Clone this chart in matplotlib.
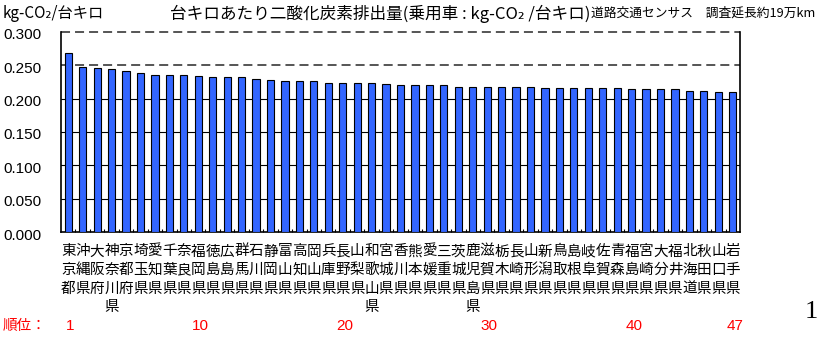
import matplotlib
matplotlib.use("Agg")
import matplotlib.pyplot as plt
import numpy as np
from matplotlib.transforms import blended_transform_factory, offset_copy

plt.rcParams["lines.scale_dashes"] = False

# Prefectures ordered by passenger-car CO2 emission per vehicle-km
prefectures = [
    "東京都", "沖縄県", "大阪府", "神奈川県", "京都府", "埼玉県", "愛知県", "千葉県",
    "奈良県", "福岡県", "徳島県", "広島県", "群馬県", "石川県", "静岡県", "富山県",
    "高知県", "岡山県", "兵庫県", "長野県", "山梨県", "和歌山県", "宮城県", "香川県",
    "熊本県", "愛媛県", "三重県", "茨城県", "鹿児島県", "滋賀県", "栃木県", "長崎県",
    "山形県", "新潟県", "鳥取県", "島根県", "岐阜県", "佐賀県", "青森県", "福島県",
    "宮崎県", "大分県", "福井県", "北海道", "秋田県", "山口県", "岩手県",
]
emissions = [
    0.269, 0.248, 0.246, 0.245, 0.242, 0.239, 0.236, 0.236,
    0.236, 0.234, 0.232, 0.232, 0.232, 0.230, 0.228, 0.226,
    0.226, 0.226, 0.224, 0.224, 0.224, 0.224, 0.222, 0.221,
    0.221, 0.221, 0.221, 0.218, 0.218, 0.218, 0.218, 0.218,
    0.218, 0.216, 0.216, 0.216, 0.216, 0.216, 0.216, 0.214,
    0.214, 0.214, 0.214, 0.212, 0.212, 0.210, 0.210,
]
rank_marks = [1, 10, 20, 30, 40, 47]
y_ticks = [0.0, 0.05, 0.10, 0.15, 0.20, 0.25, 0.30]
y_tick_labels = ["0.000", "0.050", "0.100", "0.150", "0.200", "0.250", "0.300"]
solid_grid = [0.05, 0.10, 0.15, 0.20]
dashed_grid = [0.25, 0.30]

JP = ["Noto Sans CJK JP", "DejaVu Sans"]
NUM = ["Liberation Sans", "DejaVu Sans"]
BAR_COLOR = "#3366FF"

W, H = 818, 341
fig = plt.figure(figsize=(W / 100, H / 100), dpi=100)
fig.patch.set_facecolor("white")


def fy(py):
    """Convert a pixel row (from top) to figure fraction."""
    return 1 - py / H


ax_left, ax_right, ax_top, ax_bottom = 61, 740, 32, 232
ax = fig.add_axes([ax_left / W, fy(ax_bottom), (ax_right - ax_left) / W,
                   (ax_bottom - ax_top) / H])

x = np.arange(len(prefectures))
ax.bar(x, emissions, width=0.5, color=BAR_COLOR, edgecolor="black",
       linewidth=0.8, zorder=3)

ax.set_xlim(-0.5, len(prefectures) - 0.5)
ax.set_ylim(0, 0.30)

for v in solid_grid:
    ax.axhline(v, color="black", linewidth=0.8, zorder=1)
for v in dashed_grid:
    ax.axhline(v, color="#555555", linewidth=1.4, dashes=(6.5, 3.6),
               zorder=1, clip_on=False)

for side in ("left", "right", "bottom"):
    ax.spines[side].set_color("black")
    ax.spines[side].set_linewidth(1.2)
ax.spines["top"].set_visible(False)

# category boundary ticks pointing inward
ax.set_xticks(np.arange(0.5, len(prefectures) - 1, 1.0))
ax.tick_params(axis="x", direction="in", length=2.5, width=0.8,
               labelbottom=False)
ax.set_yticks([])

# y tick labels, set slightly below their grid lines
ytrans = offset_copy(blended_transform_factory(fig.transFigure, ax.transData),
                     fig=fig, x=0, y=-3.5, units="dots")
for v, lab in zip(y_ticks, y_tick_labels):
    fig.text(3 / W, v, lab, transform=ytrans, ha="left", va="center",
             fontsize=11, family=NUM)

# vertical prefecture names, one character per row
xtrans = blended_transform_factory(ax.transData, fig.transFigure)
row_y = [251.5, 270, 288.5, 306.7]
for xi, name in zip(x, prefectures):
    for k, ch in enumerate(name):
        ax.text(xi, fy(row_y[k]), ch, transform=xtrans, ha="center",
                va="center", fontsize=10.5, family=JP, clip_on=False)

# rank row
fig.text(3 / W, fy(326), "順位：", ha="left", va="center", fontsize=10.5,
         family=JP, color="#FF0000")
rtrans = offset_copy(xtrans, fig=fig, x=2, y=0, units="dots")
for r in rank_marks:
    ax.text(r - 1, fy(326), str(r), transform=rtrans, ha="center",
            va="center", fontsize=11, family=NUM, color="#FF0000",
            clip_on=False)

# headings
fig.text(3 / W, fy(14), "kg-CO₂/台キロ", ha="left", va="center",
         fontsize=11, family=JP)
fig.text(170 / W, fy(14), "台キロあたり二酸化炭素排出量(乗用車 : kg-CO₂ /台キロ)",
         ha="left", va="center", fontsize=12, family=JP)
fig.text(815 / W, fy(13), "道路交通センサス　調査延長約19万km", ha="right",
         va="center", fontsize=9.2, family=JP)

# page number
fig.text(811.7 / W, fy(312), "1", ha="center", va="center", fontsize=19,
         family=["Liberation Serif", "DejaVu Serif"])

fig.savefig("out.png", dpi=100, facecolor="white")
